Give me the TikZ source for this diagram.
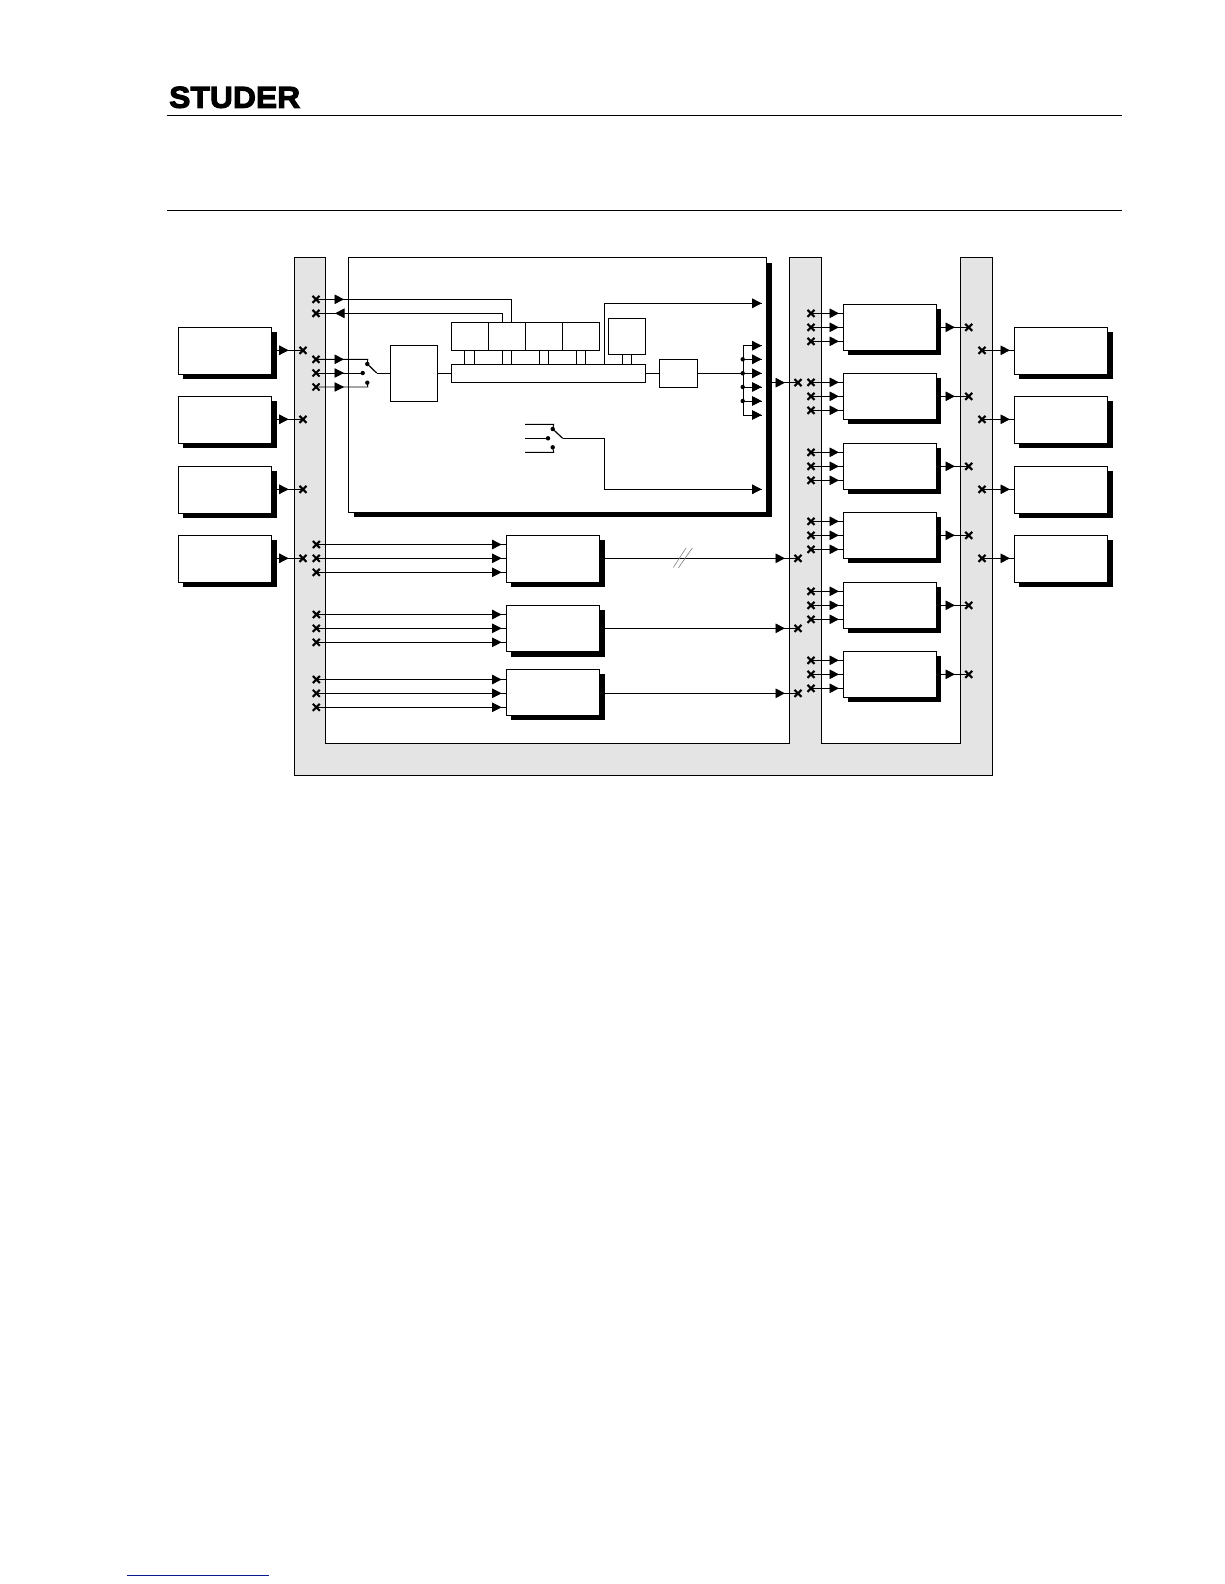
\documentclass[tikz,border=0pt]{standalone}
\usepackage{fontspec}
\setmainfont{Liberation Sans}
\newfontfamily\logofont[FakeBold=4,FakeStretch=1.35]{Liberation Sans Bold}
\usetikzlibrary{arrows.meta,shadows,shapes.misc,decorations.markings,calc}
\definecolor{busgray}{HTML}{E4E4E4}
\definecolor{linkblue}{HTML}{0A1A8C}
\tikzset{
  x=1pt,y=-1pt,
  ln/.style={line width=0.9pt,line join=miter},
  plainbox/.style={draw=black,line width=0.9pt,fill=white,inner sep=0pt,outer sep=0pt,anchor=north west},
  shbox/.style={plainbox,general shadow={fill=black,shadow xshift=4.8pt,shadow yshift=-4.8pt}},
  bigbox/.style={plainbox,general shadow={fill=black,shadow xshift=5.4pt,shadow yshift=-5.4pt}},
  xmark/.style={cross out,draw=black,line width=2.1pt,minimum size=7pt,inner sep=0pt,outer sep=0pt},
  dotn/.style={circle,fill=black,minimum size=4.4pt,inner sep=0pt,outer sep=0pt},
  hd/.style={ln,postaction={decorate},decoration={markings,mark=at position #1 with {\arrow{Triangle[length=9.5pt,width=9.5pt]}}}},
  rhd/.style={ln,postaction={decorate},decoration={markings,mark=at position #1 with {\arrowreversed{Triangle[length=9.5pt,width=9.5pt]}}}},
}
\begin{document}
\begin{tikzpicture}
\useasboundingbox (0,0) rectangle (1224,1584);
\fill[white] (0,0) rectangle (1224,1584);
% header
\node[inner sep=0pt,anchor=north west] (logo) at (169,86.5) {\resizebox{131pt}{21pt}{\logofont STUDER}};
\coordinate (r1a) at (167,115.3); \coordinate (r1b) at (1122,115.3);
\coordinate (r2a) at (167,210.3); \coordinate (r2b) at (1122,210.3);
\draw[ln] (r1a) -- (r1b);
\draw[ln] (r2a) -- (r2b);
\coordinate (b1) at (127,1575.3); \coordinate (b2) at (269,1575.3);
\draw[linkblue,line width=1pt] (b1) -- (b2);
% bus
\draw[ln,fill=busgray] (294.3,257.3) -- (325.3,257.3) -- (325.3,743.3) -- (789.3,743.3) -- (789.3,257.3) -- (821.7,257.3) -- (821.7,743.3) -- (960.3,743.3) -- (960.3,257.3) -- (992.3,257.3) -- (992.3,775.3) -- (294.3,775.3) -- cycle;
% main box
\node[bigbox,minimum width=418.4pt,minimum height=254.7pt] (main) at (348.3,257.3) {};
% left and right boxes
\foreach \n/\t in {1/327.3,2/396.3,3/466.3,4/535.3}{
  \node[shbox,minimum width=93.4pt,minimum height=47pt] (L\n) at (178.3,\t) {};
  \node[shbox,minimum width=93.4pt,minimum height=47pt] (R\n) at (1014.3,\t) {};
  \node[xmark] (xL\n) at (303,\t+23) {};
  \node[xmark] (xR\n) at (982,\t+23) {};
  \draw[hd=17pt] (L\n.east |- xL\n) -- (xL\n.center);
  \draw[hd=28pt] (xR\n.center) -- (R\n.west |- xR\n);
}
% mixer output boxes
\foreach \n/\t in {1/304.3,2/373.3,3/443.3,4/512.3,5/582.3,6/651.3}{
  \node[shbox,minimum width=93pt,minimum height=46pt] (M\n) at (843.3,\t) {};
  \foreach \k/\d in {a/9,b/23,c/37}{
    \node[xmark] (xM\n\k) at (811,\t+\d) {};
    \draw[hd=28pt] (xM\n\k.center) -- (M\n.west |- xM\n\k);
  }
  \node[xmark] (xO\n) at (968.7,\t+23) {};
  \draw[hd=18.7pt] (M\n.east |- xO\n) -- (xO\n.center);
}
% lower boxes
\foreach \n/\t/\h/\yb in {1/535.3/47/558.3,2/605.3/46.4/628.3,3/669.3/46/693.3}{
  \node[shbox,minimum width=93.4pt,minimum height=\h pt] (P\n) at (506.3,\t) {};
  \foreach \k/\d in {a/-13.8,b/0,c/14}{
    \node[xmark] (xP\n\k) at (316.3,\yb+\d) {};
    \draw[hd=185.3pt] (xP\n\k.center) -- (P\n.west |- xP\n\k);
  }
  \node[xmark] (xQ\n) at (798,\yb) {};
  \draw[hd=185.3pt] (P\n.east |- xQ\n) -- (xQ\n.center);
}
\coordinate (s1a) at (673.3,567.5); \coordinate (s1b) at (686,548);
\coordinate (s2a) at (678.3,568); \coordinate (s2b) at (692.3,548);
\draw[gray,line width=0.6pt] (s1a) -- (s1b);
\draw[gray,line width=0.6pt] (s2a) -- (s2b);
% main output to bus
\node[xmark] (xMain) at (798,382.7) {};
\draw[hd=18.3pt] (main.east |- xMain) -- (xMain.center);
% left side link crosses
\node[xmark] (xA) at (316,299.3) {};
\node[xmark] (xB) at (316,313.3) {};
\foreach \n/\y in {1/359.3,2/373,3/387}{
  \node[xmark] (xS\n) at (316,\y) {};
}
% processing chain
\node[plainbox,minimum width=47pt,minimum height=56pt] (adc) at (390.3,345.3) {};
\node[plainbox,minimum width=194pt,minimum height=18pt] (busbar) at (451.3,364.3) {};
\foreach \n/\x in {1/451.3,2/488.3,3/525.3,4/562.3}{
  \node[plainbox,minimum width=37pt,minimum height=28pt] (D\n) at (\x,322.3) {};
}
\node[plainbox,minimum width=37pt,minimum height=36pt] (D5) at (608.3,318.3) {};
\node[plainbox,minimum width=38pt,minimum height=28pt] (D6) at (659.3,359.3) {};
\draw[hd=28pt] (xA.center) -- (511.7,299.3) -- (D2.north -| 511.7,0);
\draw[rhd=19pt] (xB.center) -- (502.3,313.3) -- (D2.north -| 502.3,0);
\foreach \n/\xa/\xb in {1/464.3/474.3,2/502.3/511.7,3/539.3/548.3,4/576.3/585.3}{
  \draw[ln] (D\n.south -| \xa,0) -- (busbar.north -| \xa,0);
  \draw[ln] (D\n.south -| \xb,0) -- (busbar.north -| \xb,0);
}
\draw[ln] (D5.south -| 622.3,0) -- (busbar.north -| 622.3,0);
\draw[ln] (D5.south -| 631.7,0) -- (busbar.north -| 631.7,0);
\draw[ln] (adc.east |- busbar.west) -- (busbar.west);
\draw[ln] (busbar.east) -- (D6.west |- busbar.east);
% input switch
\node[dotn] (sw1) at (367.3,364) {};
\node[dotn] (sw2) at (362.7,373) {};
\node[dotn] (sw3) at (367.3,382.7) {};
\coordinate (swp) at (376.7,373);
\draw[hd=28pt] (xS1.center) -- (367.8,359.3) -- (sw1.center);
\draw[hd=28pt] (xS2.center) -- (sw2.center);
\draw[hd=28pt] (xS3.center) -- (367.8,387) -- (sw3.center);
\draw[line width=1.2pt] (sw1.center) -- (swp);
\draw[ln] (swp) -- (adc.west |- swp);
% output fan
\coordinate (fanj) at (743.3,373.3);
\draw[ln] (D6.east |- fanj) -- (fanj);
\coordinate (fant) at (743.3,345.7); \coordinate (fanb) at (743.3,415);
\draw[ln] (fant) -- (fanb);
\foreach \n/\y in {1/345.7,2/359.3,3/373.3,4/387,5/401,6/415}{
  \coordinate (fo\n) at (761.7,\y);
  \draw[hd=18.4pt] (743.3,\y) -- (fo\n);
}
\foreach \n/\y in {2/359.3,3/373.3,4/387,5/401}{
  \node[dotn] (fd\n) at (742.7,\y) {};
}
% top output
\coordinate (t1) at (604.3,303.3); \coordinate (t2) at (761.7,303.3);
\path[draw=black,ln] (busbar.north -| 604.3,0) -- (t1);
\draw[hd=157.4pt] (t1) -- (t2);
% second switch
\node[dotn] (sv1) at (552.7,429) {};
\node[dotn] (sv2) at (548,438.3) {};
\node[dotn] (sv3) at (552.7,447.3) {};
\coordinate (iv1) at (525,424.3); \coordinate (iv2) at (525,438.3); \coordinate (iv3) at (525,452.3);
\coordinate (svp) at (562.7,438.3);
\draw[ln] (iv1) -- (553.7,424.3) -- (sv1.center);
\draw[ln] (iv2) -- (sv2.center);
\draw[ln] (iv3) -- (553.7,452.3) -- (sv3.center);
\draw[line width=1.2pt] (sv1.center) -- (svp);
\coordinate (u1) at (604.3,438.3); \coordinate (u2) at (604.3,489.3); \coordinate (u3) at (761.7,489.3);
\draw[ln] (svp) -- (u1) -- (u2);
\draw[hd=157.4pt] (u2) -- (u3);
\end{tikzpicture}
\end{document}
